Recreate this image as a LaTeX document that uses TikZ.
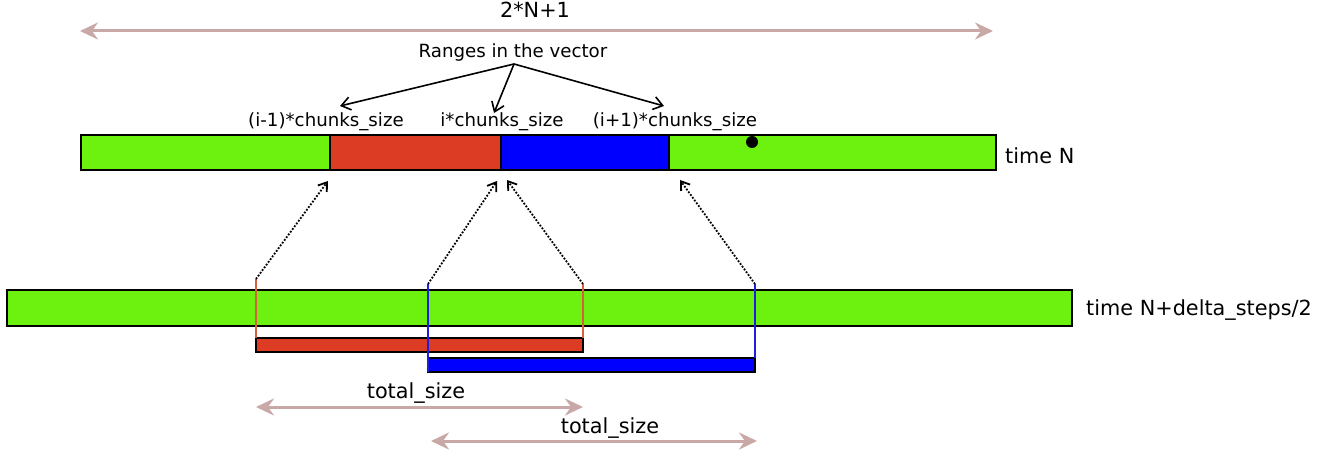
\documentclass[tikz,border=0pt]{standalone}
\usepackage{fontspec}
\setmainfont{DejaVu Sans}
\usetikzlibrary{arrows.meta}
\definecolor{barGreen}{RGB}{108,242,14}
\definecolor{barRed}{RGB}{220,60,35}
\definecolor{barBlue}{RGB}{0,0,255}
\definecolor{dimPink}{RGB}{201,168,168}
\definecolor{edgeRed}{RGB}{214,96,62}
\definecolor{edgeBlue}{RGB}{30,30,225}
\begin{document}
\begin{tikzpicture}[x=1pt,y=-1pt,
  seg/.style={draw=black, line width=2pt, inner sep=0pt, outer sep=0pt,
              anchor=north west, minimum height=35pt},
  chunkbar/.style={draw=black, line width=1.8pt, inner sep=0pt, outer sep=0pt,
              anchor=north west, minimum height=14pt, minimum width=327pt},
  biglbl/.style={font=\fontsize{20.8}{25}\selectfont, inner sep=0pt, anchor=base},
  smalllbl/.style={font=\fontsize{18.2}{22}\selectfont, inner sep=0pt, anchor=base},
  dimarrow/.style={draw=dimPink, line width=3pt,
              {Stealth[length=18pt,width=17pt,inset=6pt]}-{Stealth[length=18pt,width=17pt,inset=6pt]}},
  pointer/.style={draw=black, line width=1.6pt, -{Straight Barb[length=9pt,width=13pt]}},
  mapping/.style={draw=black, line width=1.8pt, dash pattern=on 1.8pt off 1.6pt,
              -{Straight Barb[length=8pt,width=11pt]}},
  rededge/.style={draw=edgeRed, line width=1.7pt},
  blueedge/.style={draw=edgeBlue, line width=1.7pt}]
\useasboundingbox (0,0) rectangle (1331,454);

% overall length of the vector
\coordinate (vecL) at (80,31);
\coordinate (vecR) at (993,31);
\draw[dimarrow] (vecL) -- (vecR);
\node[biglbl] (vecLen) at (535,18) {2*N+1};

% vector at time N, split into ranges
\node[seg, fill=barGreen, minimum width=249pt] (g1) at (81,135) {};
\node[seg, fill=barRed,   minimum width=171pt] (r1) at (330,135) {};
\node[seg, fill=barBlue,  minimum width=168pt] (b1) at (501,135) {};
\node[seg, fill=barGreen, minimum width=327pt] (g2) at (669,135) {};
\node[circle, fill=black, minimum size=12pt, inner sep=0pt] (dot) at (752,142) {};
\node[biglbl, anchor=base west] (timeN) at (1005,164) {time N};

% range boundary labels
\node[smalllbl] (ranges) at (513,58) {Ranges in the vector};
\node[smalllbl] (lblPrev) at (326,127) {(i-1)*chunks\_size};
\node[smalllbl] (lblCur)  at (502,127) {i*chunks\_size};
\node[smalllbl] (lblNext) at (675,127) {(i+1)*chunks\_size};
\coordinate (fork) at (514,64);
\coordinate (tipPrev) at (340,106);
\coordinate (tipCur)  at (494,113);
\coordinate (tipNext) at (664,106);
\draw[pointer] (fork) -- (tipPrev);
\draw[pointer] (fork) -- (tipCur);
\draw[pointer] (fork) -- (tipNext);

% vector at time N+delta_steps/2
\node[seg, fill=barGreen, minimum width=1065pt, minimum height=36pt] (g3) at (7,290) {};
\node[biglbl, anchor=base west] (timeD) at (1086,316) {time N+delta\_steps/2};

% chunks copied at the later time
\node[chunkbar, fill=barRed]  (rc) at (256,338) {};
\node[chunkbar, fill=barBlue] (bc) at (428,358) {};

% chunk boundaries
\coordinate (rTopL) at (256,279);
\coordinate (bTopL) at (428,284);
\coordinate (rTopR) at (583,284);
\coordinate (bTopR) at (755,284);
\draw[rededge]  (rTopL) -- (rc.north west);
\draw[rededge]  (rTopR) -- (rc.north east);
\draw[blueedge] (bTopL) -- (bc.south west);
\draw[blueedge] (bTopR) -- (bc.north east);

% mapping back onto the vector at time N
\coordinate (mPrev)  at (328,181);
\coordinate (mCurL)  at (497,181);
\coordinate (mCurR)  at (507,180);
\coordinate (mNext)  at (680,180);
\draw[mapping] (rTopL) -- (mPrev);
\draw[mapping] (bTopL) -- (mCurL);
\draw[mapping] (rTopR) -- (mCurR);
\draw[mapping] (bTopR) -- (mNext);

% sizes of the two chunks
\coordinate (t1L) at (256,407);
\coordinate (t1R) at (583,407);
\draw[dimarrow] (t1L) -- (t1R);
\node[biglbl] (tot1) at (416,398) {total\_size};
\coordinate (t2L) at (431,441);
\coordinate (t2R) at (757,441);
\draw[dimarrow] (t2L) -- (t2R);
\node[biglbl] (tot2) at (610,433) {total\_size};
\end{tikzpicture}
\end{document}
